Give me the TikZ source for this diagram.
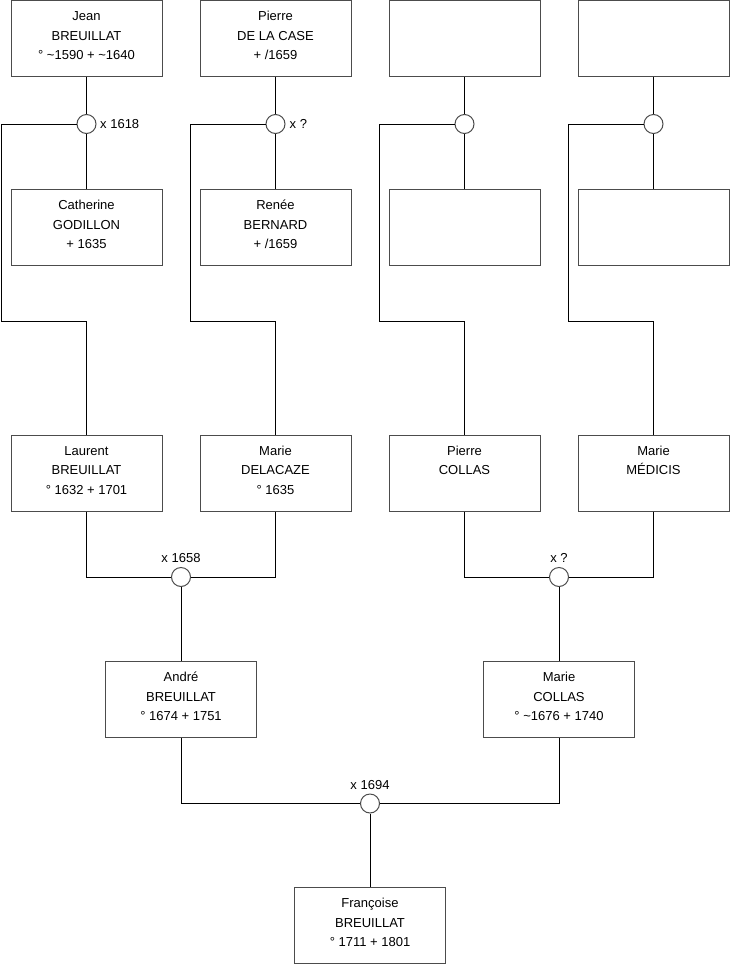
\documentclass[tikz,border=0pt]{standalone}
\usepackage{fontspec}
\setmainfont{Liberation Sans}
\newcommand{\pcard}[1]{\parbox[c][76pt][t]{151pt}{\centering\fontsize{13pt}{19.5pt}\selectfont\rule{0pt}{20pt}#1}}
\begin{document}
\begin{tikzpicture}[x=1pt,y=-1pt,
  person/.style={draw=black!70, line width=1pt, inner sep=0pt, minimum width=151pt, minimum height=76pt, fill=white},
  union/.style={circle, draw=black!70, line width=1pt, minimum size=19pt, inner sep=0pt, fill=white},
  link/.style={line width=1pt, draw=black},
  lbl/.style={font=\fontsize{13pt}{15pt}\selectfont, inner sep=0pt}]
\useasboundingbox (0,0) rectangle (740,975);
% top row
\node[person] (jean) at (86.5,38.5) {\pcard{Jean\\BREUILLAT\\° \textasciitilde1590 + \textasciitilde1640}};
\node[person] (pierre) at (275.5,38.5) {\pcard{Pierre\\DE LA CASE\\+ /1659}};
\node[person] (t3) at (464.5,38.5) {\pcard{}};
\node[person] (t4) at (653.5,38.5) {\pcard{}};
% unions
\node[union] (u1) at (86.5,124) {};
\node[union] (u2) at (275.5,124) {};
\node[union] (u3) at (464.5,124) {};
\node[union] (u4) at (653.5,124) {};
% second row
\node[person] (cath) at (86.5,227.5) {\pcard{Catherine\\GODILLON\\+ 1635}};
\node[person] (renee) at (275.5,227.5) {\pcard{Renée\\BERNARD\\+ /1659}};
\node[person] (s3) at (464.5,227.5) {\pcard{}};
\node[person] (s4) at (653.5,227.5) {\pcard{}};
% third row
\node[person] (laurent) at (86.5,473) {\pcard{Laurent\\BREUILLAT\\° 1632 + 1701}};
\node[person] (mariedl) at (275.5,473) {\pcard{Marie\\DELACAZE\\° 1635}};
\node[person] (pierrec) at (464.5,473) {\pcard{Pierre\\COLLAS}};
\node[person] (mariem) at (653.5,473) {\pcard{Marie\\MÉDICIS}};
% unions gen 3
\node[union] (m1) at (181,577) {};
\node[union] (m2) at (559,577) {};
% fourth row
\node[person] (andre) at (181,699.5) {\pcard{André\\BREUILLAT\\° 1674 + 1751}};
\node[person] (mariec) at (559,699.5) {\pcard{Marie\\COLLAS\\° \textasciitilde1676 + 1740}};
\node[union] (m3) at (370,803.5) {};
\node[person] (fran) at (370,925.5) {\pcard{Françoise\\BREUILLAT\\° 1711 + 1801}};
% bend coordinates
\coordinate (k1) at (1.5,321.5);
\coordinate (k2) at (190.5,321.5);
\coordinate (k3) at (379.5,321.5);
\coordinate (k4) at (568.5,321.5);
% connectors
\draw[link] (jean) -- (u1); \draw[link] (u1) -- (cath);
\draw[link] (pierre) -- (u2); \draw[link] (u2) -- (renee);
\draw[link] (t3) -- (u3); \draw[link] (u3) -- (s3);
\draw[link] (t4) -- (u4); \draw[link] (u4) -- (s4);
\draw[link] (u1.west) -| (k1) -| (laurent.north);
\draw[link] (u2.west) -| (k2) -| (mariedl.north);
\draw[link] (u3.west) -| (k3) -| (pierrec.north);
\draw[link] (u4.west) -| (k4) -| (mariem.north);
\draw[link] (laurent.south) |- (m1.west);
\draw[link] (mariedl.south) |- (m1.east);
\draw[link] (pierrec.south) |- (m2.west);
\draw[link] (mariem.south) |- (m2.east);
\draw[link] (m1) -- (andre);
\draw[link] (m2) -- (mariec);
\draw[link] (andre.south) |- (m3.west);
\draw[link] (mariec.south) |- (m3.east);
\draw[link] (m3) -- (fran);
% labels
\node[lbl, anchor=west] (lx1) at (100,124) {x 1618};
\node[lbl, anchor=west] (lx2) at (289.5,124) {x ?};
\node[lbl] (lx3) at (181,558) {x 1658};
\node[lbl] (lx4) at (559,558) {x ?};
\node[lbl] (lx5) at (370,785.5) {x 1694};
\end{tikzpicture}
\end{document}
